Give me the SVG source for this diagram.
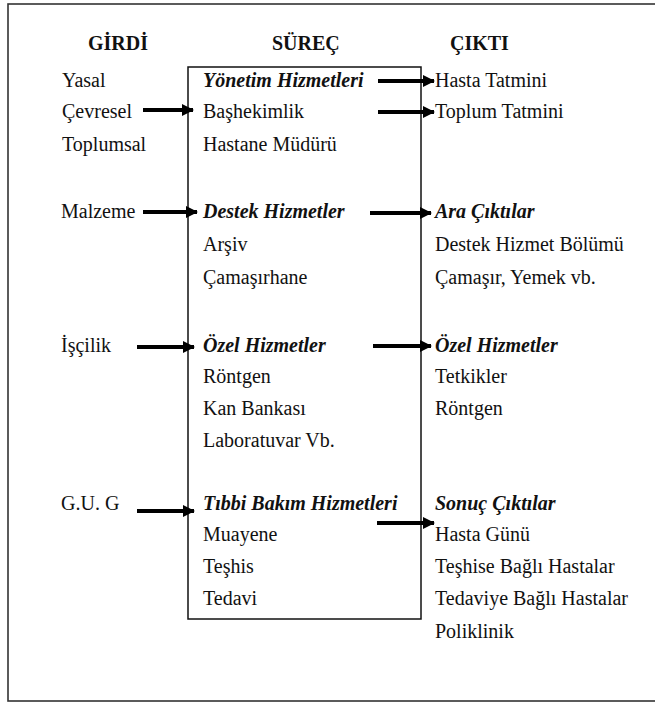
<svg xmlns="http://www.w3.org/2000/svg" width="655" height="704" viewBox="0 0 655 704">
  <defs>
    <marker id="head" markerUnits="userSpaceOnUse" markerWidth="12" markerHeight="12" refX="11" refY="6" orient="auto">
      <path d="M0,0 L12,6 L0,12 z" fill="#000"/>
    </marker>
    <style>
      text { font-family: 'Liberation Serif', 'Times New Roman', serif; font-size: 20px; fill: #111; }
      .hdr { font-weight: bold; }
      .sub { font-weight: bold; font-style: italic; }
      .frame { fill: none; stroke: #333; stroke-width: 1.6; }
      .box { fill: none; stroke: #111; stroke-width: 1.5; }
      .arrow { stroke: #000; stroke-width: 4; fill: none; marker-end: url(#head); }
    </style>
  </defs>

  <rect width="655" height="704" fill="#fff"/>
  <!-- outer frame; its right side runs past the page edge -->
  <rect class="frame" x="8" y="4" width="670" height="697"/>

  <!-- column headers -->
  <g id="headers">
    <text class="hdr" x="88" y="50">GİRDİ</text>
    <text class="hdr" x="272" y="50">SÜREÇ</text>
    <text class="hdr" x="450" y="50">ÇIKTI</text>
  </g>

  <!-- inputs -->
  <g id="girdi">
    <text x="62" y="87">Yasal</text>
    <text x="62" y="118">Çevresel</text>
    <text x="62" y="151">Toplumsal</text>
    <text x="61" y="218">Malzeme</text>
    <text x="61" y="352">İşçilik</text>
    <text x="61" y="510">G.U. G</text>
  </g>

  <!-- process box -->
  <g id="surec">
    <rect class="box" x="188" y="67" width="233" height="552"/>
    <text class="sub" x="203" y="87">Yönetim Hizmetleri</text>
    <text x="203" y="118">Başhekimlik</text>
    <text x="203" y="151">Hastane Müdürü</text>
    <text class="sub" x="203" y="218">Destek Hizmetler</text>
    <text x="203" y="251">Arşiv</text>
    <text x="203" y="284">Çamaşırhane</text>
    <text class="sub" x="203" y="352">Özel Hizmetler</text>
    <text x="203" y="383">Röntgen</text>
    <text x="203" y="415">Kan Bankası</text>
    <text x="203" y="447">Laboratuvar Vb.</text>
    <text class="sub" x="203" y="510">Tıbbi Bakım Hizmetleri</text>
    <text x="203" y="541">Muayene</text>
    <text x="203" y="573">Teşhis</text>
    <text x="203" y="605">Tedavi</text>
  </g>

  <!-- outputs -->
  <g id="cikti">
    <text x="435" y="87">Hasta Tatmini</text>
    <text x="435" y="118">Toplum Tatmini</text>
    <text class="sub" x="435" y="218">Ara Çıktılar</text>
    <text x="435" y="251">Destek Hizmet Bölümü</text>
    <text x="435" y="284">Çamaşır, Yemek vb.</text>
    <text class="sub" x="435" y="352">Özel Hizmetler</text>
    <text x="435" y="383">Tetkikler</text>
    <text x="435" y="415">Röntgen</text>
    <text class="sub" x="435" y="510">Sonuç Çıktılar</text>
    <text x="435" y="541">Hasta Günü</text>
    <text x="435" y="573">Teşhise Bağlı Hastalar</text>
    <text x="435" y="605">Tedaviye Bağlı Hastalar</text>
    <text x="435" y="638">Poliklinik</text>
  </g>

  <!-- connectors -->
  <g id="connectors">
    <line class="arrow" x1="143" y1="110" x2="193" y2="110"/>
    <line class="arrow" x1="378" y1="81" x2="434" y2="81"/>
    <line class="arrow" x1="378" y1="112" x2="434" y2="112"/>
    <line class="arrow" x1="143" y1="212" x2="197" y2="212"/>
    <line class="arrow" x1="370" y1="213" x2="431" y2="213"/>
    <line class="arrow" x1="137" y1="347" x2="194" y2="347"/>
    <line class="arrow" x1="373" y1="346" x2="431" y2="346"/>
    <line class="arrow" x1="137" y1="511" x2="194" y2="511"/>
    <line class="arrow" x1="377" y1="523" x2="434" y2="523"/>
  </g>
</svg>
